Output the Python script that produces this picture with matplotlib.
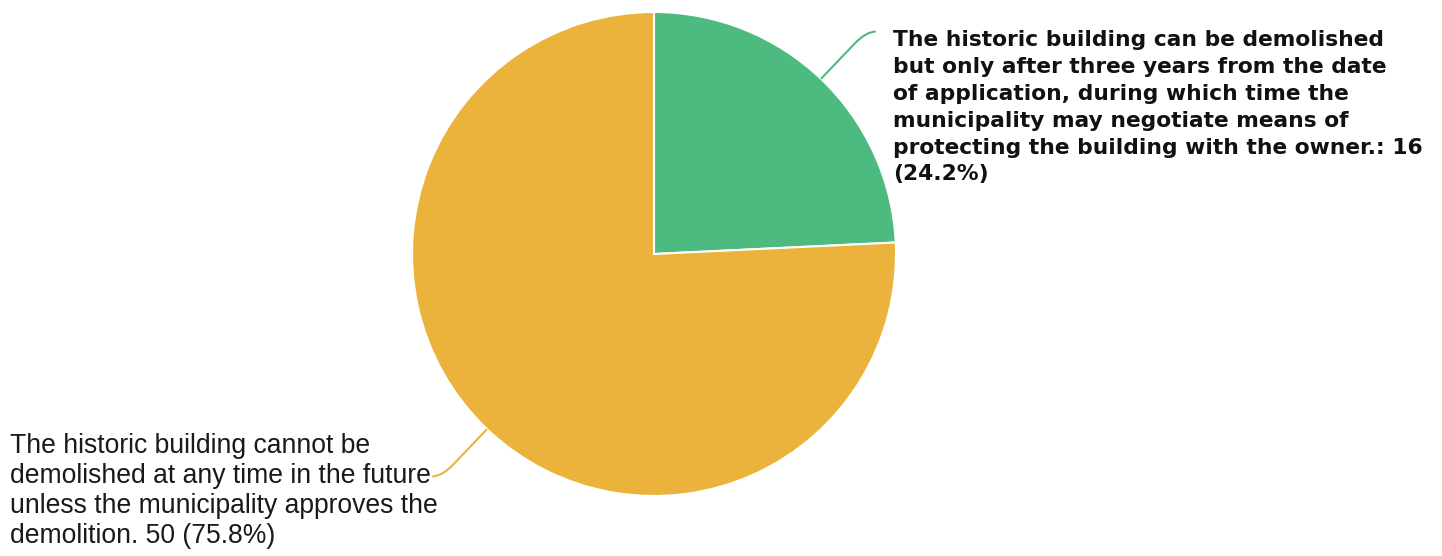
import matplotlib.pyplot as plt
import numpy as np
from matplotlib.path import Path
from matplotlib.patches import PathPatch

# Data
labels = [
    "The historic building can be demolished\nbut only after three years from the date\nof application, during which time the\nmunicipality may negotiate means of\nprotecting the building with the owner.: 16\n(24.2%)",
    "The historic building cannot be\ndemolished at any time in the future\nunless the municipality approves the\ndemolition. 50 (75.8%)",
]
counts = [16, 50]
colors = ['#4dba80', '#ebb33b']

W, H = 1442, 556
fig = plt.figure(figsize=(W / 100, H / 100), dpi=100)

# pie placed in pixels: center (654, 254), radius 242
cx, cy, r = 654, 254, 242
ax = fig.add_axes([(cx - r) / W, (H - cy - r) / H, 2 * r / W, 2 * r / H])
wedges, _ = ax.pie(counts, colors=colors, startangle=90, counterclock=False,
                   radius=1, wedgeprops=dict(edgecolor='white', linewidth=1.5))
ax.set_xlim(-1, 1)
ax.set_ylim(-1, 1)
ax.set_aspect('equal')
ax.axis('off')

# connector lines
for w, col, side in zip(wedges, colors, [1, -1]):
    mid = np.deg2rad((w.theta1 + w.theta2) / 2)
    p0 = np.array([np.cos(mid), np.sin(mid)])
    p1 = p0 * 1.2
    p2 = p0 * 1.27
    p3 = p2 + np.array([side * 0.04, 0])
    path = Path([p0, p1, p2, p3], [Path.MOVETO, Path.LINETO, Path.CURVE3, Path.CURVE3])
    ax.add_patch(PathPatch(path, fill=False, edgecolor=col, linewidth=1.5, clip_on=False))

# labels
fig.text(893 / W, 1 - 30 / H, labels[0], ha='left', va='top', fontsize=15.7,
         fontweight='bold', family='DejaVu Sans', color='#111111', linespacing=1.43)
fig.text(10 / W, 1 - 433 / H, labels[1], ha='left', va='top', fontsize=19.1,
         family='Liberation Sans', color='#1a1a1a', linespacing=1.2)

fig.savefig('out.png', dpi=100, facecolor='white')
